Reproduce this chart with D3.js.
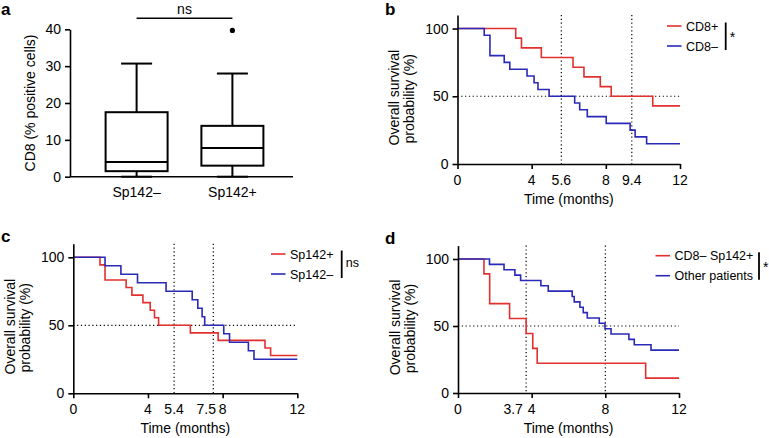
<!DOCTYPE html>
<html>
<head>
<meta charset="utf-8">
<script src="https://cdn.jsdelivr.net/npm/d3@7"></script>
<style>
  body { margin: 0; background: #fff; }
  svg { display: block; }
</style>
</head>
<body>
<script>
// panel a: box plot of CD8 positive cells
const boxCats = ["Sp142–", "Sp142+"];
const boxMin = [0, 0];
const boxQ1 = [1.5, 3];
const boxMed = [4, 7.8];
const boxQ3 = [17.5, 13.8];
const boxMax = [30.7, 28];
const boxOut = [[], [39.7]];
const boxTicks = [0, 10, 20, 30, 40];

// shared KM axes
const timeTicks = [0, 4, 8, 12];
const survTicks = [0, 50, 100];

// panel b
const bCD8posT = [0, 3.14, 3.45, 4.52, 6.23, 6.82, 7.7, 8.29, 10.53, 12];
const bCD8posS = [100, 92.9, 85.7, 78.6, 71.4, 64.3, 57.1, 50, 42.9, 42.9];
const bCD8negT = [0, 1.44, 1.75, 2.52, 2.82, 3.75, 4.13, 4.34, 4.94, 6.32, 6.59, 7.0, 8.02, 9.31, 9.58, 10.2, 12];
const bCD8negS = [100, 95, 80, 75, 70, 65, 60, 55, 50, 45, 40, 35, 30, 25, 20, 15, 15];
const bMedians = [5.6, 9.4];

// panel c
const cSpPosT = [0, 1.43, 1.7, 2.83, 3.14, 3.73, 4.12, 4.35, 4.57, 6.27, 7.76, 10.27, 10.57, 12];
const cSpPosS = [100, 94.4, 83.3, 77.8, 72.2, 66.7, 61.1, 55.6, 50, 44.4, 38.9, 33.3, 27.8, 27.8];
const cSpNegT = [0, 1.7, 2.55, 3.44, 4.97, 6.37, 6.67, 6.9, 7.04, 8.06, 8.37, 9.38, 9.68, 12];
const cSpNegS = [100, 93.8, 87.5, 81.3, 75, 68.8, 62.5, 56.3, 50, 43.8, 37.5, 31.3, 25, 25];
const cMedians = [5.4, 7.5];

// panel d
const dDoubleT = [0, 1.41, 1.72, 2.8, 3.7, 4.06, 4.3, 10.19, 12];
const dDoubleS = [100, 88.9, 66.7, 55.6, 44.4, 33.3, 22.2, 11.1, 11.1];
const dOtherT = [0, 1.71, 2.5, 3.09, 3.4, 4.5, 4.9, 6.2, 6.31, 6.62, 6.8, 7.02, 7.67, 7.98, 8.31, 9.28, 9.57, 10.48, 12];
const dOtherS = [100, 96, 92, 88, 84, 80, 76, 72, 68, 64, 60, 56, 52, 48, 44, 40, 36, 32, 32];
const dMedians = [3.7, 8];

const RED = "#e2302f";
const BLUE = "#2a2ab8";
const FONT = "'Liberation Sans', Arial, Helvetica, sans-serif";

const svg = d3.select("body").append("svg")
    .attr("width", 769)
    .attr("height", 438)
    .attr("font-family", FONT);

const panelLetter = function(txt, x, y) {
  svg.append("text")
      .attr("x", x).attr("y", y)
      .attr("font-size", 17)
      .attr("font-weight", "bold")
      .text(txt);
};

// ---------- panel a ----------
(function() {
  const y = d3.scaleLinear().domain([0, 40]).range([176.7, 29.3]);
  const x = d3.scalePoint().domain(boxCats).range([136.6, 232.4]);
  const bw = 62;
  const g = svg.append("g");

  const yAxis = g.append("g")
      .attr("transform", "translate(70,0)")
      .call(d3.axisLeft(y).tickValues(boxTicks).tickSize(5).tickSizeOuter(0).tickPadding(4));
  yAxis.selectAll("path, line").attr("stroke", "#000").attr("stroke-width", 1.6);
  yAxis.selectAll("text").attr("font-size", 14).attr("font-family", FONT).attr("fill", "#000");

  g.append("line")
      .attr("x1", 70).attr("x2", 293)
      .attr("y1", y(0)).attr("y2", y(0))
      .attr("stroke", "#000").attr("stroke-width", 1.6);

  boxCats.forEach(function(c, i) {
    const cx = x(c);
    const bg = g.append("g").attr("stroke", "#000").attr("stroke-width", 2).attr("fill", "none");
    bg.append("line").attr("x1", cx).attr("x2", cx).attr("y1", y(boxMax[i])).attr("y2", y(boxQ3[i]));
    bg.append("line").attr("x1", cx).attr("x2", cx).attr("y1", y(boxQ1[i])).attr("y2", y(boxMin[i]));
    bg.append("line").attr("x1", cx - bw / 4).attr("x2", cx + bw / 4).attr("y1", y(boxMax[i])).attr("y2", y(boxMax[i]));
    bg.append("line").attr("x1", cx - bw / 4).attr("x2", cx + bw / 4).attr("y1", y(boxMin[i])).attr("y2", y(boxMin[i]));
    bg.append("rect")
        .attr("x", cx - bw / 2).attr("width", bw)
        .attr("y", y(boxQ3[i])).attr("height", y(boxQ1[i]) - y(boxQ3[i]));
    bg.append("line").attr("x1", cx - bw / 2).attr("x2", cx + bw / 2).attr("y1", y(boxMed[i])).attr("y2", y(boxMed[i]));
    boxOut[i].forEach(function(o) {
      g.append("circle").attr("cx", cx).attr("cy", y(o)).attr("r", 2.6).attr("fill", "#000");
    });
    g.append("text")
        .attr("x", cx).attr("y", 197)
        .attr("text-anchor", "middle")
        .attr("font-size", 14)
        .text(c);
  });

  // significance bar
  g.append("line")
      .attr("x1", x(boxCats[0])).attr("x2", x(boxCats[1]))
      .attr("y1", 18.3).attr("y2", 18.3)
      .attr("stroke", "#000").attr("stroke-width", 1.6);
  g.append("text")
      .attr("x", (x(boxCats[0]) + x(boxCats[1])) / 2).attr("y", 14)
      .attr("text-anchor", "middle").attr("font-size", 14).text("ns");

  g.append("text")
      .attr("transform", "translate(35,103) rotate(-90)")
      .attr("text-anchor", "middle")
      .attr("font-size", 14)
      .text("CD8 (% positive cells)");

  panelLetter("a", 1, 15);
})();

// ---------- KM panels ----------
const drawKM = function(o) {
  const x = d3.scaleLinear().domain([0, 12]).range([o.x0, o.x1]);
  const y = d3.scaleLinear().domain([0, 110]).range([o.y0, o.yTop]);
  const g = svg.append("g");

  // reference dotted lines
  g.append("line")
      .attr("x1", x(0)).attr("x2", x(12))
      .attr("y1", y(50)).attr("y2", y(50))
      .attr("stroke", "#000").attr("stroke-width", 1.2)
      .attr("stroke-dasharray", "1.2,2.6");
  g.selectAll(".med")
    .data(o.medians)
    .join("line")
      .attr("x1", d => x(d)).attr("x2", d => x(d))
      .attr("y1", y(110)).attr("y2", y(0))
      .attr("stroke", "#000").attr("stroke-width", 1.2)
      .attr("stroke-dasharray", "1.2,2.6");

  // curves
  const line = d3.line()
      .x(d => x(d[0]))
      .y(d => y(d[1]))
      .curve(d3.curveStepAfter);
  o.series.forEach(function(s) {
    g.append("path")
        .datum(d3.zip(s.t, s.s))
        .attr("fill", "none")
        .attr("stroke", s.color)
        .attr("stroke-width", 1.6)
        .attr("d", line);
  });

  // axes
  const yAxis = g.append("g")
      .attr("transform", `translate(${o.x0},0)`)
      .call(d3.axisLeft(y).tickValues(survTicks).tickSize(5).tickSizeOuter(0).tickPadding(4));
  const xAxis = g.append("g")
      .attr("transform", `translate(0,${o.y0})`)
      .call(d3.axisBottom(x).tickValues(timeTicks).tickSize(5).tickSizeOuter(0).tickFormat(""));
  [yAxis, xAxis].forEach(function(a) {
    a.selectAll("path, line").attr("stroke", "#000").attr("stroke-width", 1.6);
    a.selectAll("text").attr("font-size", 14).attr("font-family", FONT).attr("fill", "#000");
  });
  g.selectAll(".xl")
    .data(timeTicks)
    .join("text")
      .attr("x", d => x(d))
      .attr("y", o.y0 + 20.5)
      .attr("text-anchor", "middle")
      .attr("font-size", 14)
      .text(d => d);
  // median labels (nudged sideways where they would collide with a tick label)
  g.selectAll(".ml")
    .data(o.medians.filter(m => timeTicks.indexOf(m) < 0))
    .join("text")
      .attr("x", (d, i) => x(d) + (o.medDx[i] || 0))
      .attr("y", o.y0 + 20.5)
      .attr("text-anchor", "middle")
      .attr("font-size", 14)
      .text(d => d);

  g.append("text")
      .attr("x", (o.x0 + o.x1) / 2).attr("y", o.y0 + 40)
      .attr("text-anchor", "middle").attr("font-size", 14)
      .text("Time (months)");

  const yc = (o.y0 + o.yTop) / 2;
  g.append("text")
      .attr("transform", `translate(${o.x0 - 58.5},${yc + 56}) rotate(-90)`)
      .attr("font-size", 14)
      .text("Overall survival");
  g.append("text")
      .attr("transform", `translate(${o.x0 - 43.5},${yc + 54}) rotate(-90)`)
      .attr("font-size", 14)
      .text("probability (%)");

  // legend
  o.series.forEach(function(s, i) {
    const ly = o.legY + i * 20;
    g.append("line")
        .attr("x1", o.legX).attr("x2", o.legX + 14.5)
        .attr("y1", ly).attr("y2", ly)
        .attr("stroke", s.color).attr("stroke-width", 1.6);
    g.append("text")
        .attr("x", o.legX + 19).attr("y", ly + 4.5)
        .attr("font-size", 12.5)
        .text(s.name);
  });
  g.append("line")
      .attr("x1", o.brX).attr("x2", o.brX)
      .attr("y1", o.legY - 3.5).attr("y2", o.legY + 24)
      .attr("stroke", "#000").attr("stroke-width", 1.8);
  g.append("text")
      .attr("x", o.brX + 4).attr("y", o.legY + o.sigDy)
      .attr("font-size", o.sigSize)
      .text(o.sig);

  panelLetter(o.letter, o.lx, o.ly);
};

drawKM({
  letter: "b", lx: 385, ly: 15,
  x0: 457.5, x1: 680, y0: 164, yTop: 15,
  medians: bMedians, medDx: [0, 0],
  series: [
    { name: "CD8+", t: bCD8posT, s: bCD8posS, color: RED },
    { name: "CD8–", t: bCD8negT, s: bCD8negS, color: BLUE }
  ],
  legX: 667, legY: 26, brX: 725.7, sig: "*", sigSize: 14, sigDy: 16
});

drawKM({
  letter: "c", lx: 1, ly: 242,
  x0: 73.3, x1: 297.3, y0: 393.3, yTop: 243.7,
  medians: cMedians, medDx: [0, -7],
  series: [
    { name: "Sp142+", t: cSpPosT, s: cSpPosS, color: RED },
    { name: "Sp142–", t: cSpNegT, s: cSpNegS, color: BLUE }
  ],
  legX: 271, legY: 254, brX: 341.7, sig: "ns", sigSize: 12.5, sigDy: 13
});

drawKM({
  letter: "d", lx: 385, ly: 244,
  x0: 458, x1: 679, y0: 393, yTop: 245.6,
  medians: dMedians, medDx: [-13, 0],
  series: [
    { name: "CD8– Sp142+", t: dDoubleT, s: dDoubleS, color: RED },
    { name: "Other patients", t: dOtherT, s: dOtherS, color: BLUE }
  ],
  legX: 655.5, legY: 255.7, brX: 759, sig: "*", sigSize: 14, sigDy: 16
});
</script>
</body>
</html>
